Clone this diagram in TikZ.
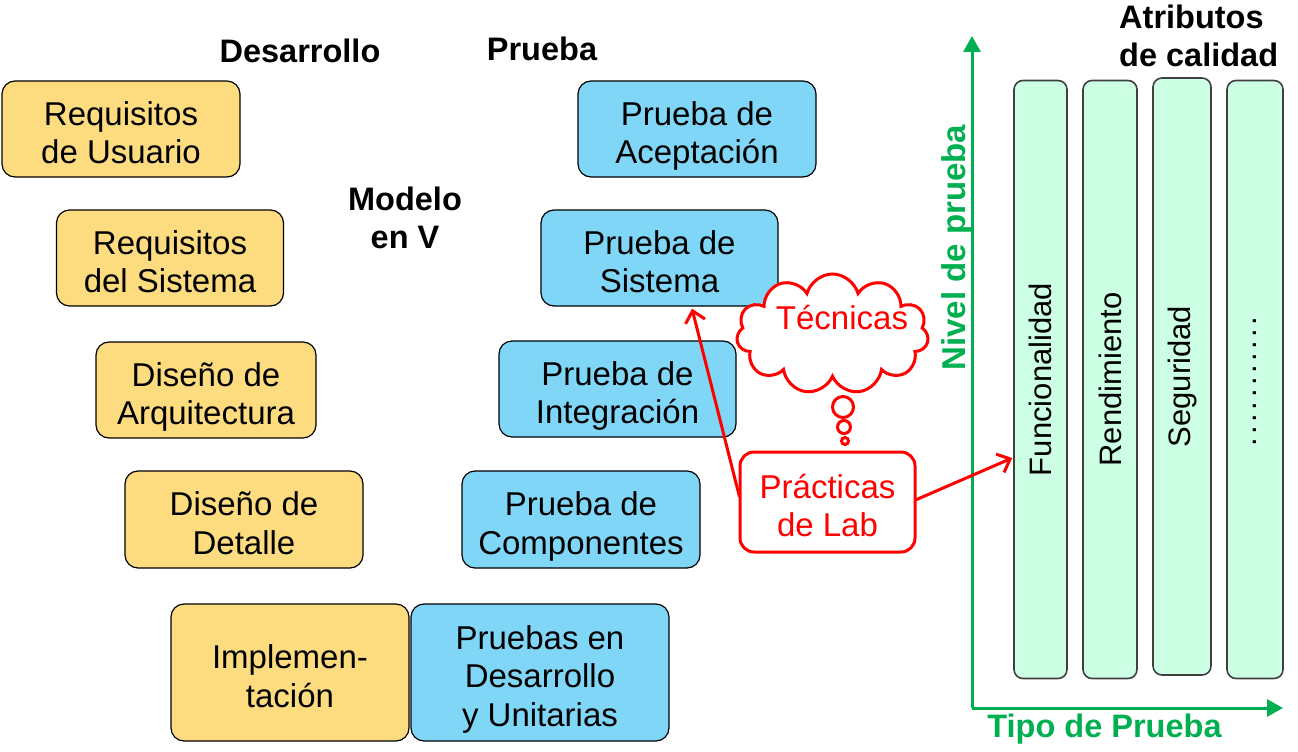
\documentclass[tikz,border=0pt]{standalone}
\usepackage{fontspec}
\setmainfont{Liberation Sans}
\usetikzlibrary{shapes.symbols,arrows.meta,calc}
\definecolor{devfill}{HTML}{FDDC80}
\definecolor{testfill}{HTML}{80D6F6}
\definecolor{colfill}{HTML}{CCFFE4}
\definecolor{axisgreen}{HTML}{00B050}
\definecolor{colborder}{HTML}{404040}
\newcommand\bxl[1]{\rule[-4pt]{0pt}{38.5pt}\smash{#1}}
\tikzset{
  txt/.style={font=\fontsize{33}{38.5}\selectfont, align=center, inner sep=0pt},
  devbox/.style={txt, draw=black, line width=1.2pt, fill=devfill, rounded corners=13pt, minimum width=238pt, minimum height=96pt},
  testbox/.style={txt, draw=black, line width=1.2pt, fill=testfill, rounded corners=13pt, minimum width=238pt, minimum height=96pt},
  colbox/.style={draw=colborder, line width=1.6pt, fill=colfill, rounded corners=9pt, minimum height=598pt, inner sep=0pt},
  lbl/.style={font=\fontsize{32.5}{38}\selectfont\bfseries, align=center, inner sep=0pt},
  redline/.style={draw=red, line width=3pt},
  redarrow/.style={red, line width=3pt, -{Straight Barb[length=11pt,width=20pt,line width=3pt]}},
  axis/.style={axisgreen, line width=3pt, -{Triangle[length=16pt,width=17pt]}},
}
\begin{document}
\begin{tikzpicture}[x=1pt,y=-1pt]
\useasboundingbox (0,0) rectangle (1298,752);

% development side
\node[devbox] (ru) at (121,129) {\bxl{Requisitos}\\\bxl{de Usuario}};
\node[devbox, minimum width=227pt] (rs) at (170,258) {\bxl{Requisitos}\\\bxl{del Sistema}};
\node[devbox, minimum width=220pt] (da) at (206,390) {\bxl{Diseño de}\\\bxl{Arquitectura}};
\node[devbox, minimum height=97pt] (dd) at (244,519.5) {\bxl{Diseño de}\\\bxl{Detalle}};
\node[devbox, minimum height=137pt] (im) at (290,672.5) {\bxl{Implemen-}\\\bxl{tación}};

% test side
\node[testbox, minimum width=258pt, minimum height=137pt] (pu) at (540,672.5) {\bxl{Pruebas en}\\\bxl{Desarrollo}\\\bxl{y Unitarias}};
\node[testbox, minimum height=97pt] (pc) at (581,519.5) {\bxl{Prueba de}\\\bxl{Componentes}};
\node[testbox, minimum width=237pt] (pi) at (617.5,389) {\bxl{Prueba de}\\\bxl{Integración}};
\node[testbox, minimum width=237pt] (ps) at (659.5,258) {\bxl{Prueba de}\\\bxl{Sistema}};
\node[testbox] (pa) at (697,129) {\bxl{Prueba de}\\\bxl{Aceptación}};

% headings
\node[lbl] (hdes) at (300,51) {Desarrollo};
\node[lbl] (hpru) at (542,49) {Prueba};
\node[lbl] (hmod) at (405,218) {Modelo\\en V};

% axes
\coordinate (orig) at (972,708);
\coordinate (ytip) at (972,36);
\coordinate (xtip) at (1283,708);
\draw[axis] (orig) -- (ytip);
\draw[axis] (orig) -- (xtip);
\node[lbl, text=axisgreen, rotate=90, font=\fontsize{33}{38}\selectfont\bfseries] (nivel) at (957,247.5) {Nivel de prueba};
\node[lbl, text=axisgreen] (tipo) at (1104.5,729) {Tipo de Prueba};
\node[lbl, align=left, anchor=west] (attr) at (1119,36) {Atributos\\de calidad};

% quality attribute columns
\node[colbox, minimum width=53pt] (fun) at (1040.5,379.5) {};
\node[colbox, minimum width=54pt] (ren) at (1110,379.5) {};
\node[colbox, minimum width=58pt, minimum height=597pt] (seg) at (1182,376.5) {};
\node[colbox, minimum width=56pt] (dots) at (1255,379.5) {};
\node[txt, rotate=90, font=\fontsize{31}{38}\selectfont] (tfun) at (fun.center) {Funcionalidad};
\node[txt, rotate=90, font=\fontsize{31}{38}\selectfont] (tren) at (ren.center) {Rendimiento};
\node[txt, rotate=90, font=\fontsize{31}{38}\selectfont] (tseg) at (seg.center) {Seguridad};
\node[txt, rotate=90, font=\fontsize{31}{38}\selectfont] (tdots) at ($(dots.center)+(0,2)$) {.\kern3.5pt.\kern3.5pt.\kern3.5pt.\kern3.5pt.\kern3.5pt.\kern3.5pt.\kern3.5pt.\kern3.5pt.\kern3.5pt.\kern3.5pt.};

% thought cloud
\node[cloud, cloud puffs=11, cloud ignores aspect, redline, fill=white, minimum width=192pt, minimum height=120pt] (cloud) at (832.5,334) {};
\node[txt, text=red] (tec) at (842,318) {Técnicas};
\node[circle, redline, minimum size=21pt, inner sep=0pt] (b1) at (843,407) {};
\node[circle, redline, minimum size=13pt, inner sep=0pt] (b2) at (844,427) {};
\node[circle, redline, minimum size=7pt, inner sep=0pt] (b3) at (845,441) {};

% practicas
\node[txt, text=red, redline, rounded corners=14pt, minimum width=175pt, minimum height=100pt] (prac) at (827.5,502) {\bxl{Prácticas}\\\bxl{de Lab}};

\draw[redarrow] ($(prac.west)+(1,-5)$) -- ($(ps.south)+(32.5,2)$);
\draw[redarrow] ($(prac.east)+(-1,-2)$) -- ($(fun.west)+(-1,78.5)$);
\end{tikzpicture}
\end{document}
